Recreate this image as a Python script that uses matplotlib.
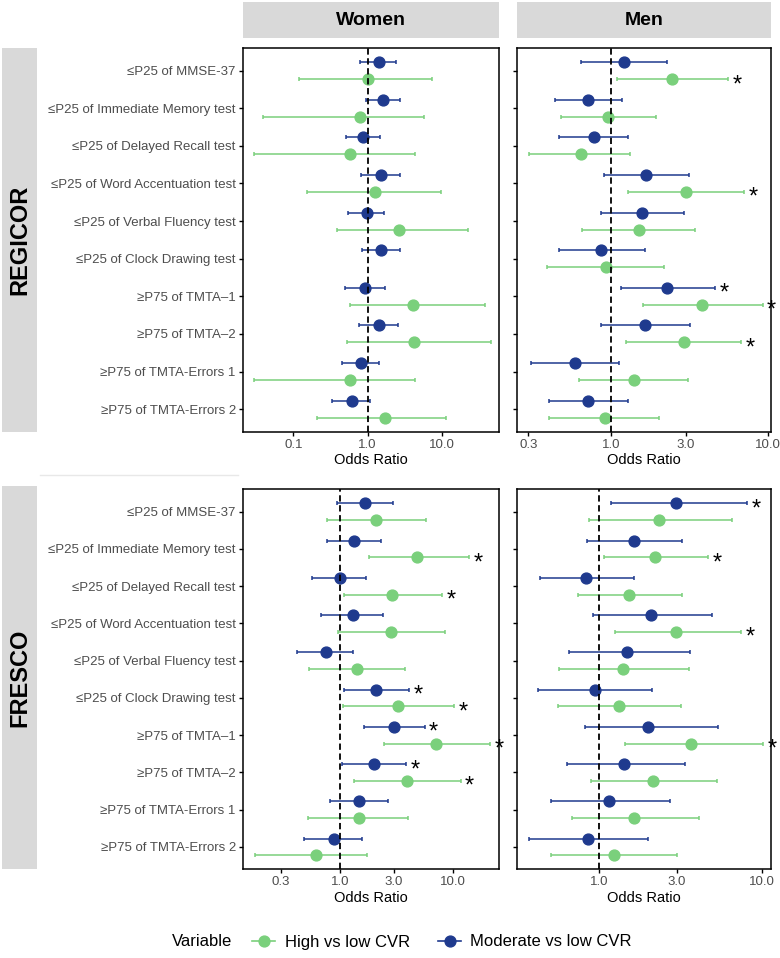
import numpy as np
import matplotlib
matplotlib.use("Agg")
import matplotlib.pyplot as plt
from matplotlib.lines import Line2D

plt.rcParams['font.family'] = ['Liberation Sans', 'DejaVu Sans']

tests = ["≤P25 of MMSE-37", "≤P25 of Immediate Memory test", "≤P25 of Delayed Recall test",
         "≤P25 of Word Accentuation test", "≤P25 of Verbal Fluency test",
         "≤P25 of Clock Drawing test", "≥P75 of TMTA–1", "≥P75 of TMTA–2",
         "≥P75 of TMTA-Errors 1", "≥P75 of TMTA-Errors 2"]

# (odds ratio, lower 95% CI, upper 95% CI) for each test, top to bottom
regicor_women_mod = [(1.41, 0.80, 2.39), (1.61, 0.95, 2.73), (0.87, 0.51, 1.48), (1.50, 0.81, 2.73),
                     (0.97, 0.55, 1.64), (1.51, 0.83, 2.73), (0.93, 0.50, 1.71), (1.44, 0.77, 2.57),
                     (0.81, 0.45, 1.41), (0.62, 0.33, 1.09)]
regicor_women_high = [(1.01, 0.118, 7.3), (0.79, 0.039, 5.83), (0.58, 0.029, 4.36), (1.26, 0.15, 9.8),
                      (2.68, 0.385, 22.5), (np.nan, np.nan, np.nan), (4.10, 0.58, 38.5), (4.19, 0.52, 45.9),
                      (0.58, 0.029, 4.36), (1.71, 0.21, 11.4)]
regicor_men_mod = [(1.215, 0.65, 2.28), (0.715, 0.443, 1.18), (0.784, 0.472, 1.29), (1.68, 0.90, 3.16),
                   (1.58, 0.87, 2.90), (0.87, 0.466, 1.64), (2.27, 1.16, 4.59), (1.64, 0.87, 3.20),
                   (0.597, 0.312, 1.12), (0.715, 0.406, 1.29)]
regicor_men_high = [(2.46, 1.09, 5.58), (0.967, 0.48, 1.95), (0.645, 0.303, 1.33), (2.99, 1.29, 7.05),
                    (1.52, 0.655, 3.44), (0.934, 0.393, 2.17), (3.82, 1.60, 9.21), (2.90, 1.245, 6.75),
                    (1.41, 0.627, 3.07), (0.925, 0.406, 2.03)]
fresco_women_mod = [(1.66, 0.94, 2.96), (1.33, 0.77, 2.28), (0.99, 0.56, 1.70), (1.29, 0.68, 2.41),
                    (0.748, 0.418, 1.30), (2.08, 1.08, 4.06), (2.99, 1.63, 5.58), (2.01, 1.05, 3.82),
                    (1.46, 0.82, 2.63), (0.89, 0.48, 1.57)]
fresco_women_high = [(2.06, 0.76, 5.70), (4.81, 1.79, 13.9), (2.88, 1.09, 7.94), (2.84, 0.967, 8.5),
                     (1.41, 0.53, 3.77), (3.27, 1.07, 10.2), (7.03, 2.43, 21.2), (3.93, 1.34, 11.6),
                     (1.48, 0.526, 3.98), (0.61, 0.178, 1.72)]
fresco_men_mod = [(2.97, 1.185, 8.17), (1.64, 0.848, 3.25), (0.836, 0.434, 1.64), (2.09, 0.914, 4.95),
                  (1.49, 0.651, 3.64), (0.945, 0.42, 2.11), (2.0, 0.817, 5.37), (1.43, 0.633, 3.38),
                  (1.16, 0.509, 2.75), (0.852, 0.371, 2.01)]
fresco_men_high = [(2.33, 0.868, 6.57), (2.22, 1.07, 4.70), (1.54, 0.74, 3.25), (2.97, 1.25, 7.46),
                   (1.40, 0.57, 3.59), (1.33, 0.562, 3.18), (3.68, 1.45, 10.2), (2.15, 0.897, 5.34),
                   (1.65, 0.68, 4.14), (1.23, 0.509, 3.0)]

# rows (index into tests) marked with an asterisk
stars_rw_mod, stars_rw_high = [], []
stars_rm_mod, stars_rm_high = [6], [0, 3, 6, 7]
stars_fw_mod, stars_fw_high = [5, 6, 7], [1, 2, 5, 6, 7]
stars_fm_mod, stars_fm_high = [0], [1, 3, 6]

green = "#7AD07C"
blue = "#1F3A8E"
grey_strip = "#D9D9D9"

W, H = 780, 958
fig = plt.figure(figsize=(W / 100, H / 100), dpi=100)


def box(x0, y0, x1, y1):
    # pixel box (top-left origin) -> figure fraction rect
    return [x0 / W, 1 - y1 / H, (x1 - x0) / W, (y1 - y0) / H]


def panel(rect, mod, high, st_mod, st_high, xlim, ticks, ticklabels, show_y):
    ax = fig.add_axes(rect)
    for rows, dy, col, stars in ((mod, -0.225, blue, st_mod), (high, 0.225, green, st_high)):
        d = np.array(rows, dtype=float)
        y = np.arange(len(d)) + dy
        ax.errorbar(d[:, 0], y, xerr=[d[:, 0] - d[:, 1], d[:, 2] - d[:, 0]], fmt='o',
                    color=col, ms=7.8, lw=1.1, capsize=1.5, capthick=1.1, zorder=2)
        for k in stars:
            ax.annotate('*', (d[k, 2], y[k]), xytext=(6.5, -8.7), textcoords='offset points',
                        ha='center', va='baseline', fontsize=17, color='black')
    ax.axvline(1, color='black', ls=(0, (3.5, 2)), lw=1.3, zorder=3)
    ax.set_xscale('log')
    ax.set_xlim(*xlim)
    ax.set_ylim(9.6, -0.6)
    ax.set_xticks(ticks)
    ax.set_xticklabels(ticklabels)
    ax.minorticks_off()
    ax.set_yticks(np.arange(len(tests)))
    if show_y:
        ax.set_yticklabels(tests)
    else:
        ax.set_yticklabels([])
    ax.tick_params(axis='both', length=3, width=1, color='black', labelcolor='#4D4D4D',
                   labelsize=9.5, pad=2)
    for s in ax.spines.values():
        s.set_linewidth(1.1)
        s.set_color('black')
    ax.set_xlabel('Odds Ratio', fontsize=10.5, labelpad=2)
    return ax


panel(box(242.7, 48, 499.3, 431.7), regicor_women_mod, regicor_women_high, stars_rw_mod,
      stars_rw_high, (0.0207, 59.4), [0.1, 1, 10], ["0.1", "1.0", "10.0"], True)
panel(box(517.3, 48, 770.7, 431.7), regicor_men_mod, regicor_men_high, stars_rm_mod,
      stars_rm_high, (0.255, 10.36), [0.3, 1, 3, 10], ["0.3", "1.0", "3.0", "10.0"], False)
panel(box(242.7, 489.3, 499.3, 869.3), fresco_women_mod, fresco_women_high, stars_fw_mod,
      stars_fw_high, (0.138, 25.5), [0.3, 1, 3, 10], ["0.3", "1.0", "3.0", "10.0"], True)
panel(box(517.3, 489.3, 770.7, 869.3), fresco_men_mod, fresco_men_high, stars_fm_mod,
      stars_fm_high, (0.315, 11.36), [1, 3, 10], ["1.0", "3.0", "10.0"], False)

# facet strips
for rect, txt, rot, fs in ((box(242.7, 2, 499.3, 38.3), "Women", 0, 14),
                           (box(517.3, 2, 770.7, 38.3), "Men", 0, 14),
                           (box(2, 48, 37, 431.7), "REGICOR", 90, 17),
                           (box(2, 486, 37, 869.3), "FRESCO", 90, 17)):
    sa = fig.add_axes(rect)
    sa.set_facecolor(grey_strip)
    sa.set_xticks([])
    sa.set_yticks([])
    for s in sa.spines.values():
        s.set_visible(False)
    sa.text(0.5, 0.5, txt, rotation=rot, ha='center', va='center', fontsize=fs,
            fontweight='bold', color='black', transform=sa.transAxes)

# faint separator between the two stacked plots
fig.add_artist(Line2D([40 / W, 238 / W], [1 - 475 / H, 1 - 475 / H], color='#E8E8E8', lw=1))

# legend
handles = [Line2D([], [], color=green, marker='o', ms=7.8, lw=1.2),
           Line2D([], [], color=blue, marker='o', ms=7.8, lw=1.2)]
fig.text(171.7 / W, 1 - 942 / H, "Variable", fontsize=12, ha='left', va='center')
fig.legend(handles, ["High vs low CVR", "Moderate vs low CVR"], loc='center',
           bbox_to_anchor=(442 / W, 1 - 942 / H), ncol=2, frameon=False, fontsize=12,
           handlelength=1.4, handletextpad=0.55, columnspacing=1.7, borderpad=0)

fig.savefig("out.png", dpi=100)
